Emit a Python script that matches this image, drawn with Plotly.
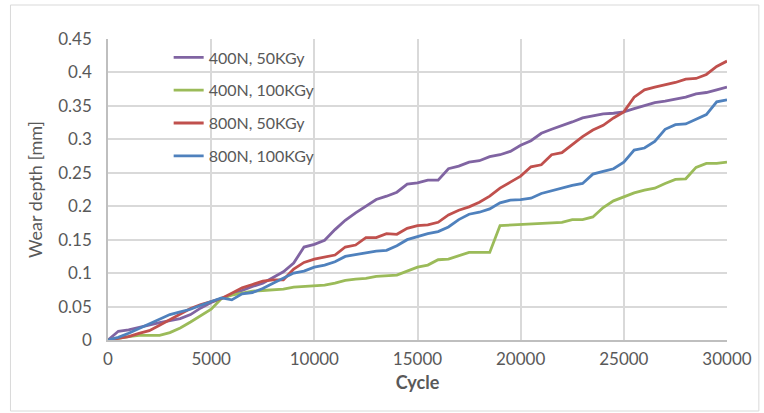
import plotly.graph_objects as go

cycles = list(range(0, 30001, 500))

p400_50 = [0, 0.013, 0.015, 0.019, 0.022, 0.026, 0.029, 0.032, 0.038, 0.048,
           0.056, 0.062, 0.068, 0.075, 0.080, 0.085, 0.093, 0.102, 0.115, 0.139,
           0.143, 0.149, 0.165, 0.179, 0.190, 0.200, 0.210, 0.215, 0.221, 0.233,
           0.235, 0.239, 0.239, 0.256, 0.260, 0.266, 0.268, 0.274, 0.277, 0.282,
           0.291, 0.298, 0.309, 0.315, 0.320, 0.326, 0.332, 0.335, 0.338, 0.339,
           0.341, 0.346, 0.350, 0.355, 0.357, 0.360, 0.363, 0.368, 0.370, 0.374,
           0.378]

p400_100 = [0, 0.003, 0.005, 0.007, 0.007, 0.007, 0.011, 0.018, 0.027, 0.036,
            0.046, 0.062, 0.067, 0.070, 0.073, 0.074, 0.075, 0.076, 0.079, 0.080,
            0.080, 0.082, 0.085, 0.089, 0.091, 0.092, 0.095, 0.096, 0.097, 0.103,
            0.109, 0.112, 0.120, 0.121, 0.126, 0.131, 0.131, 0.131, 0.171, 0.172,
            0.173, 0.174, 0.174, 0.175, 0.176, 0.180, 0.180, 0.184, 0.198, 0.208,
            0.214, 0.220, 0.224, 0.227, 0.234, 0.240, 0.241, 0.258, 0.264, 0.264,
            0.266]

p800_50 = [0, 0.002, 0.005, 0.010, 0.014, 0.022, 0.030, 0.038, 0.047, 0.053,
           0.058, 0.062, 0.070, 0.078, 0.083, 0.088, 0.090, 0.090, 0.106, 0.116,
           0.121, 0.124, 0.127, 0.139, 0.142, 0.153, 0.153, 0.159, 0.158, 0.167,
           0.171, 0.172, 0.176, 0.187, 0.194, 0.199, 0.206, 0.215, 0.227, 0.236,
           0.245, 0.259, 0.262, 0.277, 0.280, 0.292, 0.304, 0.314, 0.321, 0.332,
           0.341, 0.363, 0.374, 0.378, 0.381, 0.385, 0.390, 0.391, 0.397, 0.409,
           0.417]

p800_100 = [0, 0.004, 0.010, 0.017, 0.023, 0.031, 0.038, 0.042, 0.046, 0.052,
            0.058, 0.063, 0.060, 0.069, 0.071, 0.077, 0.085, 0.093, 0.100, 0.103,
            0.109, 0.112, 0.117, 0.125, 0.128, 0.130, 0.133, 0.134, 0.141, 0.150,
            0.155, 0.159, 0.162, 0.169, 0.180, 0.188, 0.191, 0.196, 0.205, 0.209,
            0.210, 0.212, 0.219, 0.223, 0.228, 0.231, 0.234, 0.248, 0.252, 0.256,
            0.266, 0.284, 0.287, 0.297, 0.315, 0.322, 0.323, 0.330, 0.337, 0.356,
            0.359]

series = [
    ("400N, 50KGy", p400_50, "#8064A2"),
    ("400N, 100KGy", p400_100, "#9BBB59"),
    ("800N, 50KGy", p800_50, "#C0504D"),
    ("800N, 100KGy", p800_100, "#4F81BD"),
]

fig = go.Figure()
for i, (name, vals, col) in enumerate(series):
    fig.add_trace(go.Scatter(x=cycles, y=vals, mode="lines", name=name,
                             legendgroup=f"g{i}",
                             line=dict(color=col, width=2.8)))

font_fam = "Lato, 'Open Sans', sans-serif"
grey = "#595959"
grid = "#D9D9D9"

W, H = 764, 413
L, R, T, B = 108, 34, 39, 73
pw, ph = W - L - R, H - T - B

fig.update_layout(
    width=W, height=H,
    margin=dict(l=L, r=R, t=T, b=B),
    paper_bgcolor="white", plot_bgcolor="white",
    font=dict(family=font_fam, color=grey, size=16),
    showlegend=True,
    legend=dict(x=0.098, y=0.995, xanchor="left", yanchor="top",
                bgcolor="rgba(0,0,0,0)", font=dict(size=16, color=grey),
                traceorder="grouped", tracegroupgap=9),
    xaxis=dict(range=[0, 30000], dtick=5000, tickformat="d",
               showgrid=True, gridcolor=grid, gridwidth=1.5,
               showline=True, linecolor="#BFBFBF", linewidth=1.5,
               zeroline=False, ticks="", ticklabelstandoff=3,
               tickfont=dict(size=17, color=grey),
               title=dict(text="<b>Cycle</b>", font=dict(size=18, color=grey), standoff=8)),
    yaxis=dict(range=[0, 0.45], dtick=0.05,
               showgrid=True, gridcolor=grid, gridwidth=1.5,
               showline=True, linecolor="#BFBFBF", linewidth=1.5,
               zeroline=False, ticks="", ticklabelstandoff=11,
               tickfont=dict(size=17, color=grey),
               title=dict(text="Wear depth [mm]", font=dict(size=18, color=grey), standoff=11)),
    shapes=[dict(type="rect", xref="paper", yref="paper",
                 x0=(10 - L) / pw, x1=(762 - L) / pw,
                 y0=-(411 - (H - B)) / ph, y1=((H - B) - 5) / ph,
                 line=dict(color="#D9D9D9", width=1), fillcolor="rgba(0,0,0,0)",
                 layer="below")],
)

fig.write_html("out.html", config={"displayModeBar": False},
               post_script="document.body.style.margin='0';")
